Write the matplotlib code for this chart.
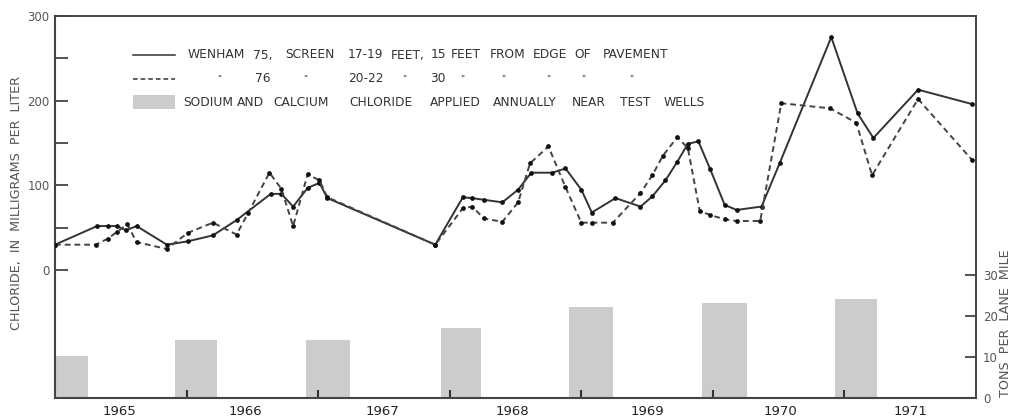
import matplotlib
matplotlib.use("Agg")
import matplotlib.pyplot as plt
from matplotlib.lines import Line2D
from matplotlib.patches import Rectangle

# ---- data ----
w75_x = [1965.00, 1965.32, 1965.40, 1965.47, 1965.54, 1965.62, 1965.85, 1966.01, 1966.20, 1966.38,
         1966.64, 1966.72, 1966.81, 1966.92, 1967.01, 1967.07, 1967.89, 1968.10, 1968.17, 1968.26,
         1968.40, 1968.52, 1968.62, 1968.78, 1968.88, 1969.00, 1969.08, 1969.26, 1969.45, 1969.54,
         1969.64, 1969.73, 1969.81, 1969.89, 1969.98, 1970.09, 1970.18, 1970.37, 1970.51, 1970.90,
         1971.10, 1971.22, 1971.56, 1971.97]
w75_y = [30, 52, 52, 52, 47, 52, 30, 34, 41, 59,
         90, 90, 75, 97, 103, 85, 30, 86, 85, 83,
         80, 95, 115, 115, 120, 95, 68, 85, 75, 87,
         106, 128, 149, 152, 119, 77, 71, 75, 127, 275,
         185, 156, 213, 196]

w76_x = [1965.00, 1965.31, 1965.40, 1965.47, 1965.55, 1965.62, 1965.85, 1966.01, 1966.20, 1966.38,
         1966.47, 1966.63, 1966.72, 1966.81, 1966.92, 1967.01, 1967.07, 1967.89, 1968.10, 1968.17,
         1968.26, 1968.40, 1968.52, 1968.61, 1968.75, 1968.88, 1969.00, 1969.08, 1969.24, 1969.45,
         1969.54, 1969.62, 1969.73, 1969.81, 1969.90, 1969.98, 1970.09, 1970.18, 1970.36, 1970.52,
         1970.89, 1971.09, 1971.21, 1971.56, 1971.97]
w76_y = [30, 30, 37, 45, 54, 33, 25, 44, 56, 42,
         68, 115, 96, 52, 113, 106, 86, 30, 73, 75,
         61, 57, 80, 126, 146, 98, 56, 56, 56, 91,
         112, 135, 157, 144, 70, 65, 60, 58, 58, 197,
         191, 174, 112, 202, 130]

salt_start = [1964.92, 1965.91, 1966.91, 1967.93, 1968.91, 1969.92, 1970.93]
salt_end = [1965.25, 1966.23, 1967.24, 1968.24, 1969.24, 1970.26, 1971.25]
salt_tons = [10.3, 14.1, 14.1, 17.1, 22.2, 23.2, 24.1]

years = [1965, 1966, 1967, 1968, 1969, 1970, 1971]
year_label_pos = [1965.49, 1966.45, 1967.49, 1968.48, 1969.50, 1970.51, 1971.50]
chl_ticks = [0, 100, 200, 300]
chl_minor = [50, 150, 250]
ton_ticks = [0, 10, 20, 30]

W, H = 1013, 419
fig = plt.figure(figsize=(W / 100, H / 100), dpi=100)
L, R, T, B = 55, 976, 16, 398
ax = fig.add_axes([L / W, 1 - B / H, (R - L) / W, (B - T) / H])
ax2 = ax.twinx()

ink = "#333333"
gray_txt = "#555555"
bar_col = "#cccccc"

# bars on tons axis
for s, e, t in zip(salt_start, salt_end, salt_tons):
    ax2.bar(s, t, width=e - s, align="edge", color=bar_col, edgecolor="none", zorder=1)
ax2.set_ylim(0, 93.2)

ax.set_zorder(ax2.get_zorder() + 1)
ax.patch.set_visible(False)

ax.plot(w75_x, w75_y, color=ink, lw=1.4, marker="o", ms=2.4, mfc="#111111", mec="#111111", zorder=3)
ax.plot(w76_x, w76_y, color="#444444", lw=1.4, ls=(0, (3, 2)), marker="o", ms=2.4,
        mfc="#111111", mec="#111111", zorder=3)

ax.set_xlim(1965.0, 1972.0)
ax.set_ylim(-151, 300)

# left axis ticks
ax.set_yticks(chl_ticks)
ax.set_yticklabels([str(v) for v in chl_ticks])
ax.set_yticks(chl_minor, minor=True)
ax.tick_params(axis="y", which="both", direction="in", length=9, width=1.3, color="#444444",
               labelsize=8.5, labelcolor=gray_txt, pad=4)

# bottom ticks: year boundaries, labels at mid-year
ax.set_xticks([y + 1 for y in years[:-1]])
ax.set_xticklabels([])
ax.tick_params(axis="x", which="major", direction="in", length=6, width=1.5, color="#333333")
ax.set_xticks(year_label_pos, minor=True)
ax.set_xticklabels([str(y) for y in years], minor=True)
ax.tick_params(axis="x", which="minor", length=0, labelsize=9.5, labelcolor="#222222", pad=5)

# right axis
ax2.set_yticks(ton_ticks)
ax2.set_yticklabels([str(v) for v in ton_ticks])
ax2.tick_params(axis="y", direction="in", length=8, width=1.3, color="#444444",
                labelsize=8.5, labelcolor=gray_txt, pad=5)

for a in (ax, ax2):
    for sp in a.spines.values():
        sp.set_color("#444444")
        sp.set_linewidth(1.2)
ax.spines["bottom"].set_linewidth(1.5)
ax.spines["left"].set_linewidth(1.5)

fig.text(17 / W, 1 - 203 / H, "CHLORIDE,  IN  MILLIGRAMS  PER  LITER", rotation=90,
         ha="center", va="center", fontsize=9.2, color=gray_txt)
fig.text(1005 / W, 1 - 323 / H, "TONS  PER  LANE  MILE", rotation=90,
         ha="center", va="center", fontsize=9.2, color=gray_txt)


# legend
def fx(px):
    return px / W


def fy(py):
    return 1 - py / H


fs = 8.8
txt_col = "#333333"
fig.add_artist(Line2D([fx(133), fx(175)], [fy(55), fy(55)], color=ink, lw=1.1))
fig.add_artist(Line2D([fx(133), fx(175)], [fy(79), fy(79)], color=ink, lw=1.1, ls=(0, (3, 2))))
fig.add_artist(Rectangle((fx(133), fy(109)), fx(175) - fx(133), fy(95) - fy(109),
                         transform=fig.transFigure, color=bar_col, lw=0))

row1 = [(216, "WENHAM"), (263, "75,"), (310, "SCREEN"), (365, "17-19"), (408, "FEET,"),
        (438, "15"), (466, "FEET"), (508, "FROM"), (550, "EDGE"), (583, "OF"), (635, "PAVEMENT")]
row2 = [(219, '"'), (263, "76"), (305, '"'), (366, "20-22"), (404, '"'), (438, "30"),
        (462, '"'), (503, '"'), (548, '"'), (583, '"'), (631, '"')]
row3 = [(208, "SODIUM"), (250, "AND"), (301, "CALCIUM"), (381, "CHLORIDE"), (455, "APPLIED"),
        (525, "ANNUALLY"), (589, "NEAR"), (635, "TEST"), (684, "WELLS")]
for px, s in row1:
    fig.text(fx(px), fy(55), s, fontsize=fs, color=txt_col, va="center", ha="center")
for px, s in row2:
    fig.text(fx(px), fy(79), s, fontsize=fs if s != '"' else 6.5, color=txt_col,
             va="center", ha="center")
for px, s in row3:
    fig.text(fx(px), fy(102), s, fontsize=fs, color=txt_col, va="center", ha="center")

fig.savefig("out.png", dpi=100)
